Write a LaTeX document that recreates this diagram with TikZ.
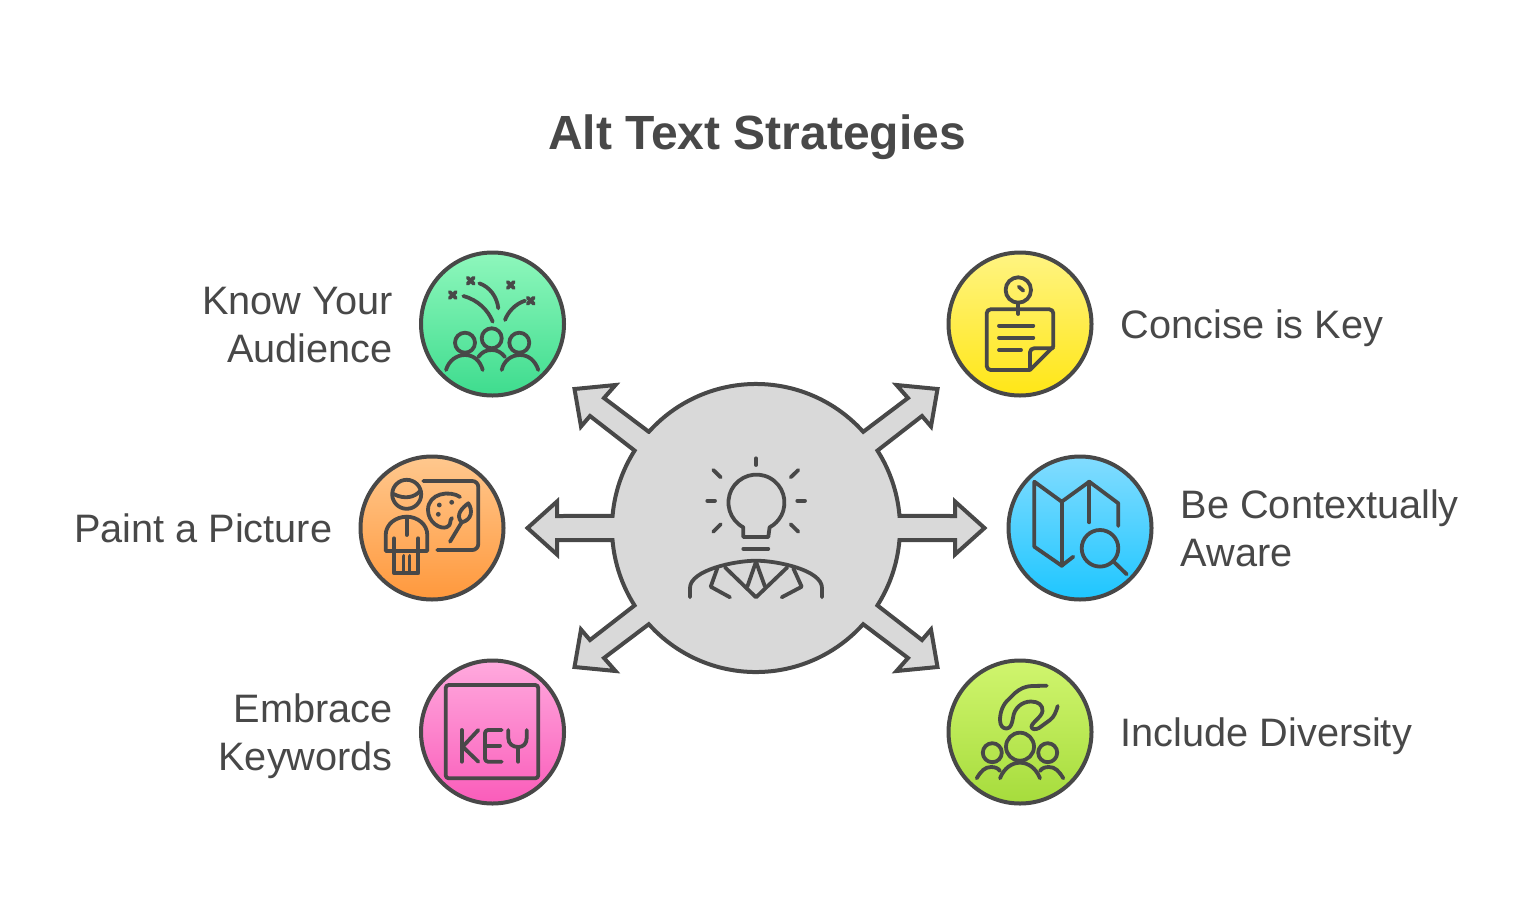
\documentclass[tikz,border=0pt]{standalone}
\usepackage{fontspec}
\setmainfont{Liberation Sans}
\usetikzlibrary{positioning}
\definecolor{inkgray}{HTML}{484848}
\definecolor{hubgray}{HTML}{D9D9D9}

\begin{document}
\begin{tikzpicture}[x=1pt,y=-1pt,
spot/.style={circle, draw=inkgray, line width=4pt, minimum size=143pt, inner sep=0pt},
lbl/.style={text=inkgray, inner sep=0pt, font=\fontsize{39.7}{48}\selectfont},
lblone/.style={lbl, text height=30pt, text depth=2pt},
icon/.style={draw=inkgray, line width=3.8pt, line cap=round, line join=round},
dotmark/.style={fill=inkgray, draw=none}]
\useasboundingbox (0,0) rectangle (1536,900);

\node (Title) at (757,137) [text=inkgray, inner sep=0pt, font=\fontsize{48}{56}\selectfont\bfseries] {Alt Text Strategies};

% Hub with its six arrows, one outline
\draw[draw=inkgray, fill=hubgray, line width=4pt, line join=miter]
(648.8,431.8) -- (604,398) -- (615.5,385) -- (574.5,389) -- (581,426.5) -- (590,416) -- (634.6,450.6)
arc[start angle=147.5, end angle=175.2, radius=144pt]
-- (557,516) -- (557,501.5) -- (527.5,528) -- (557,554.5) -- (557,540) -- (612.5,540.1)
arc[start angle=184.8, end angle=212.5, radius=144pt]
-- (590,640) -- (581,629.5) -- (574.5,667) -- (615.5,671) -- (604,658) -- (648.8,624.2)
arc[start angle=221.9, end angle=318.1, radius=144pt]
-- (908,658) -- (896.5,671) -- (937.5,667) -- (931,629.5) -- (922,640) -- (877.4,605.4)
arc[start angle=327.5, end angle=355.2, radius=144pt]
-- (955,540) -- (955,554.5) -- (984.5,528) -- (955,501.5) -- (955,516) -- (899.5,515.9)
arc[start angle=4.8, end angle=32.5, radius=144pt]
-- (922,416) -- (931,426.5) -- (937.5,389) -- (896.5,385) -- (908,398) -- (863.2,431.8)
arc[start angle=41.9, end angle=138.1, radius=144pt] -- cycle;

% Define the six coloured circles
\node (Aud) at (492.5,324) [spot, top color={rgb,255:red,142;green,247;blue,188}, bottom color={rgb,255:red,62;green,220;blue,142}] {};
\node (Pic) at (432,528) [spot, top color={rgb,255:red,255;green,200;blue,142}, bottom color={rgb,255:red,255;green,152;blue,60}] {};
\node (Key) at (492.5,732) [spot, top color={rgb,255:red,255;green,170;blue,222}, bottom color={rgb,255:red,250;green,92;blue,186}] {};
\node (Con) at (1020,324) [spot, top color={rgb,255:red,255;green,244;blue,130}, bottom color={rgb,255:red,255;green,230;blue,22}] {};
\node (Ctx) at (1080,528) [spot, top color={rgb,255:red,130;green,220;blue,255}, bottom color={rgb,255:red,30;green,198;blue,255}] {};
\node (Div) at (1020,732) [spot, top color={rgb,255:red,208;green,245;blue,110}, bottom color={rgb,255:red,166;green,220;blue,60}] {};

% Labels beside the circles
\node (AudText) [lbl, left=26pt of Aud, align=right, yshift=-1pt] {Know Your\\Audience};
\node (PicText) [lblone, left=26pt of Pic, align=right] {Paint a Picture};
\node (KeyText) [lbl, left=26pt of Key, align=right, yshift=-4pt] {Embrace\\Keywords};
\node (ConText) [lblone, right=27pt of Con, align=left] {Concise is Key};
\node (CtxText) [lbl, right=27pt of Ctx, align=left] {Be Contextually\\Aware};
\node (DivText) [lblone, right=27pt of Div, align=left] {Include Diversity};

% Bulb and suit in the hub
\draw[icon] (743.3,527.3) arc[start angle=242, end angle=-62, radius=28pt] -- (768.3,537) -- (743.3,537) -- cycle;
\draw[icon] (743.3,548.7) -- (768.3,548.7);
\draw[icon] (756,458.3) -- (756,465);
\draw[icon] (713.3,470) -- (720.7,477.3);
\draw[icon] (798.3,470) -- (790.7,477.3);
\draw[icon] (707.3,500.7) -- (715,500.7);
\draw[icon] (797.3,500.7) -- (805,500.7);
\draw[icon] (720.7,524.3) -- (713.3,531.7);
\draw[icon] (790.7,524.3) -- (798.3,531.7);
\draw[icon] (690,597.3) -- (690,588) .. controls (690,570) and (735,560.7) .. (756,560.7) .. controls (777,560.7) and (822,570) .. (822,588) -- (822,597.3);
\draw[icon] (725,567.3) -- (756,597.3) -- (787.3,567.3);
\draw[icon] (747.3,586.7) -- (756,561.7) -- (765,586.7);
\draw[icon] (717.3,568.3) -- (710.7,586.7) -- (730,597.3);
\draw[icon] (793.3,568.3) -- (801.7,586.7) -- (781.7,597.3);

% Audience icon
\draw[icon] (465,342.7) circle[radius=10pt];
\draw[icon] (491.7,338.3) circle[radius=10pt];
\draw[icon] (519.3,342.7) circle[radius=10pt];
\draw[icon] (446,370) .. controls (449,360) and (457,355) .. (465,355) .. controls (473,355) and (480,360) .. (482.7,370);
\draw[icon] (478.3,357) .. controls (482,352) and (486,350) .. (491.7,350) .. controls (497,350) and (501,352) .. (505,357);
\draw[icon] (501.7,370) .. controls (504,360) and (512,355) .. (520,355) .. controls (528,355) and (535,360) .. (538.3,370);
\draw[icon] (463.3,296) .. controls (478,300) and (488,310) .. (492.7,321.7);
\draw[icon] (479.3,283.3) .. controls (490,287) and (497,297) .. (498.3,308.3);
\draw[icon] (525,300.7) .. controls (515,304) and (508,312) .. (505,320);
\foreach \mx/\my in {452.7/295, 470.7/280.7, 510.7/285, 530.7/300.7} {
\draw[icon] (\mx-3,\my-3) -- (\mx+3,\my+3);
\draw[icon] (\mx-3,\my+3) -- (\mx+3,\my-3);
}

% Painter icon
\draw[icon] (406.7,494.3) circle[radius=14.5pt];
\draw[icon] (393.5,494) .. controls (405,500) and (415,497) .. (420,491);
\draw[icon, rounded corners=6pt] (423.3,481) -- (478.3,481) -- (478.3,550) -- (437.3,550);
\draw[icon] (385.7,551) -- (385.7,535) .. controls (385.7,524) and (396,516.7) .. (406.7,516.7) .. controls (417,516.7) and (427.3,524) .. (427.3,535) -- (427.3,551) -- cycle;
\draw[icon] (406.7,516.7) -- (406.7,535);
\draw[icon] (394,538.3) -- (394,573.3) -- (418.3,573.3) -- (418.3,538.3);
\draw[icon] (403.5,556) -- (403.5,573);
\draw[icon] (409.5,556) -- (409.5,573);
\draw[icon] (460,497) .. controls (450,490) and (428,493) .. (428,510) .. controls (428,522) and (440,530) .. (447,527) .. controls (452,525) and (449,520) .. (452,518);
\fill[dotmark] (439.3,505) circle[radius=2.4pt];
\fill[dotmark] (451.7,502.3) circle[radius=2.4pt];
\fill[dotmark] (438.3,514.3) circle[radius=2.4pt];
\draw[icon] (450,541.7) -- (461.7,522.3);
\draw[icon] (461.7,522.3) .. controls (455,515) and (462,508) .. (468.3,503.3) .. controls (473,510) and (472,520) .. (461.7,522.3);

% Key icon
\draw[icon, rounded corners=3pt] (445.7,685) rectangle (538.3,778.3);
\draw[icon] (461.7,730) -- (461.7,761.7);
\draw[icon] (478.3,730) -- (462.7,746.7) -- (478.3,761.7);
\draw[icon, rounded corners=3pt] (501.7,730) -- (485,730) -- (485,761.7) -- (501.7,761.7);
\draw[icon] (485,745.7) -- (500,745.7);
\draw[icon] (508.3,730) -- (508.3,738) .. controls (508.3,744) and (513,747) .. (518.3,747) .. controls (523,747) and (526.7,744) .. (526.7,738) -- (526.7,730);
\draw[icon] (518.3,747) -- (518.3,761.7);

% Note icon
\draw[icon] (1018.3,290) circle[radius=12.7pt];
\draw[icon] (1018.8,286.7) -- (1023.3,290.7);
\draw[icon] (1018.3,302.7) -- (1018.3,314);
\draw[icon, rounded corners=4pt] (1030,370) -- (986.7,370) -- (986.7,309.3) -- (1053.3,309.3) -- (1053.3,346.7);
\draw[icon] (1030,370) -- (1053.3,346.7);
\draw[icon, rounded corners=4pt] (1030,368) -- (1030,348.3) -- (1053,348.3);
\draw[icon] (999,325.7) -- (1033.3,325.7);
\draw[icon] (999,337.7) -- (1033.3,337.7);
\draw[icon] (999,350) -- (1021,350);

% Map icon
\draw[icon] (1118.3,526) -- (1118.3,503.3) -- (1089.3,481.7) -- (1061.7,501.7) -- (1034.3,481.7) -- (1034.3,546.7) -- (1061.7,565.7) -- (1073.3,556.7);
\draw[icon] (1061.7,501.7) -- (1061.7,565.7);
\draw[icon] (1089.3,481.7) -- (1089.3,522.3);
\draw[icon] (1100,548.3) circle[radius=18.3pt];
\draw[icon] (1114.3,562.3) -- (1126.7,574.3);

% Hand over people icon
\draw[icon] (1020,746.7) circle[radius=14pt];
\draw[icon] (992.3,752.7) circle[radius=9.5pt];
\draw[icon] (1047.7,752.7) circle[radius=9.5pt];
\draw[icon] (1000,778.3) .. controls (1004,768) and (1012,762.7) .. (1020,762.7) .. controls (1028,762.7) and (1036,768) .. (1040,778.3);
\draw[icon] (976.7,778.3) .. controls (981,771) and (985,767) .. (991,767) .. controls (995,767) and (998,768) .. (1000,771);
\draw[icon] (1063.3,778.3) .. controls (1059,771) and (1055,767) .. (1049,767) .. controls (1045,767) and (1042,768) .. (1040,771);
\draw[icon] (1046.7,685.7) -- (1032,686) .. controls (1024,686.5) and (1020,689) .. (1015,693) -- (1009,699) .. controls (1003,704) and (1000,712) .. (1000,720) .. controls (1000,726) and (1003,728.5) .. (1006.5,728.5) .. controls (1011,728.5) and (1012,723) .. (1013,718) .. controls (1014,708) and (1022,701.5) .. (1031,701.5) .. controls (1038,701.5) and (1043,705) .. (1042.5,711) .. controls (1042,717) and (1031,723) .. (1031.5,727) .. controls (1032,730) and (1036,729.5) .. (1039,728) -- (1050,720) .. controls (1054,717) and (1056,712) .. (1057.7,706);
\end{tikzpicture}
\end{document}
